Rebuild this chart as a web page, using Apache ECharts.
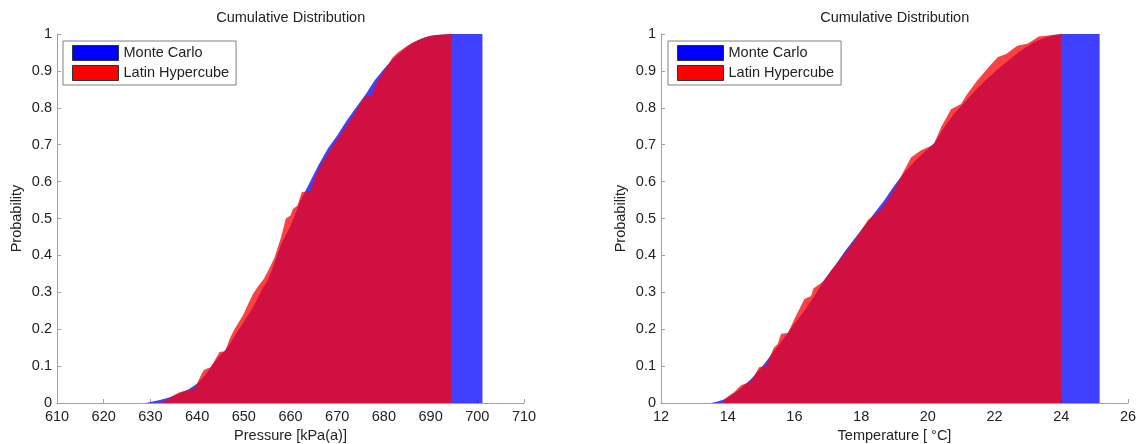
<!DOCTYPE html>
<html>
<head>
<meta charset="utf-8">
<script src="https://cdn.jsdelivr.net/npm/echarts@6/dist/echarts.min.js"></script>
<style>
html,body{margin:0;padding:0;background:#fff;}
#c{width:1140px;height:444px;}
</style>
</head>
<body>
<div id="c"></div>
<script>
// ---- Data ----
const seriesNames = ['Monte Carlo', 'Latin Hypercube'];
const chartTitle = 'Cumulative Distribution';
const pressureAxisName = 'Pressure [kPa(a)]';
const temperatureAxisName = 'Temperature [ \u00B0C]';
const probAxisName = 'Probability';

// Pressure CDF, Monte Carlo  [kPa(a), probability]
const pressureMC = [
  [629,0],[630,0.003],[632,0.008],[634,0.015],[636,0.025],[638,0.036],[639.5,0.048],
  [640,0.053],[641,0.065],[642,0.08],[643,0.098],[644,0.115],[645,0.13],[646,0.143],
  [647,0.16],[648,0.18],[650,0.22],[652,0.26],[654,0.31],[655,0.33],[656,0.36],
  [658,0.43],[660,0.48],[662,0.545],[663,0.57],[664,0.595],[666,0.645],[668,0.69],
  [670,0.725],[672,0.765],[674,0.8],[676,0.835],[678,0.874],[680,0.905],[682,0.933],
  [684,0.955],[686,0.975],[688,0.987],[690,0.995],[692,0.998],[694.4,1],[701.1,1]
];
// Pressure CDF, Latin Hypercube
const pressureLH = [
  [632,0],[633,0.005],[634,0.012],[635,0.02],[636,0.028],[637,0.032],[638.5,0.036],
  [639.5,0.04],[640.2,0.058],[641,0.08],[641.5,0.09],[642.9,0.097],[643.5,0.11],
  [644.8,0.138],[646,0.14],[647,0.175],[648,0.2],[649.8,0.237],[651,0.27],[652,0.296],
  [653,0.315],[654.3,0.337],[655.5,0.365],[656.6,0.395],[658,0.45],[659,0.5],[660,0.508],
  [660.5,0.526],[661.5,0.535],[662.4,0.571],[664.3,0.576],[665,0.605],[666.6,0.648],
  [668,0.675],[669.5,0.705],[671.2,0.738],[673,0.77],[675.8,0.83],[677.3,0.833],
  [678.5,0.87],[680,0.9],[681.9,0.937],[683,0.95],[685,0.968],[687,0.982],[689,0.992],
  [691,0.997],[694.45,1]
];
// Temperature CDF, Monte Carlo  [degC, probability]
const tempMC = [
  [13.5,0],[13.7,0.004],[13.9,0.01],[14.1,0.02],[14.4,0.04],[14.7,0.065],[15.0,0.095],
  [15.3,0.13],[15.6,0.165],[15.8,0.19],[16.0,0.215],[16.3,0.25],[16.6,0.29],[16.9,0.335],
  [17.2,0.37],[17.5,0.41],[17.8,0.445],[18.1,0.48],[18.4,0.515],[18.7,0.55],[19.0,0.59],
  [19.3,0.625],[19.6,0.655],[19.9,0.68],[20.2,0.705],[20.5,0.748],[20.8,0.785],[21.1,0.815],
  [21.4,0.845],[21.7,0.872],[22.0,0.897],[22.3,0.92],[22.6,0.942],[22.9,0.962],[23.2,0.978],
  [23.5,0.99],[23.8,0.997],[24.0,1],[25.15,1]
];
// Temperature CDF, Latin Hypercube
const tempLH = [
  [13.85,0],[13.9,0.01],[14.07,0.022],[14.2,0.03],[14.4,0.048],[14.6,0.055],[14.72,0.061],
  [14.94,0.097],[15.16,0.102],[15.38,0.15],[15.5,0.16],[15.6,0.188],[15.8,0.19],[16.03,0.233],
  [16.3,0.282],[16.5,0.29],[16.57,0.31],[16.9,0.332],[17.1,0.36],[17.34,0.386],[17.77,0.436],
  [18.2,0.495],[18.6,0.525],[18.97,0.575],[19.2,0.615],[19.5,0.666],[19.8,0.685],[20.17,0.7],
  [20.4,0.748],[20.7,0.797],[21.0,0.81],[21.15,0.833],[21.48,0.874],[21.9,0.918],[22.1,0.938],
  [22.35,0.946],[22.68,0.968],[23.0,0.974],[23.33,0.993],[24.0,1]
];
const pressureTicks = {min:610, max:710, interval:10};
const tempTicks = {min:12, max:26, interval:2};
const probTicks = {min:0, max:1, interval:0.1};

// ---- Styling ----
const FONT = 'Liberation Sans, Arial, sans-serif';
const FS = 14.5;
const axisGray = '#a0a0a0';
const textCol = '#222';
const blueFill = 'rgba(0,0,255,0.75)';
const redFill = 'rgba(255,0,0,0.75)';

function xAxisCfg(gridIndex, ticks, name){
  return {
    type:'value', gridIndex, min:ticks.min, max:ticks.max, interval:ticks.interval,
    name, nameLocation:'middle', nameGap:25,
    nameTextStyle:{color:textCol, fontFamily:FONT, fontSize:FS},
    axisLine:{show:true, lineStyle:{color:axisGray, width:1}},
    axisTick:{show:true, inside:true, length:4, lineStyle:{color:axisGray}},
    axisLabel:{color:textCol, fontFamily:FONT, fontSize:FS, margin:6, showMinLabel:true, showMaxLabel:true},
    splitLine:{show:false}
  };
}
function yAxisCfg(gridIndex){
  return {
    type:'value', gridIndex, min:probTicks.min, max:probTicks.max, interval:probTicks.interval,
    name:probAxisName, nameLocation:'middle', nameGap:33, nameRotate:90,
    nameTextStyle:{color:textCol, fontFamily:FONT, fontSize:FS},
    axisLine:{show:true, lineStyle:{color:axisGray, width:1}},
    axisTick:{show:true, inside:true, length:4, lineStyle:{color:axisGray}},
    axisLabel:{color:textCol, fontFamily:FONT, fontSize:FS, margin:5, showMinLabel:true, showMaxLabel:true},
    splitLine:{show:false}
  };
}
function areaSeries(name, data, fill, idx){
  return {
    name, type:'line', data, xAxisIndex:idx, yAxisIndex:idx,
    symbol:'none', silent:true, animation:false,
    lineStyle:{width:0, opacity:0},
    itemStyle:{color:fill},
    areaStyle:{color:fill, opacity:1}
  };
}
function legendCfg(left){
  return {
    left, top:41, orient:'vertical', icon:'rect', selectedMode:false,
    itemWidth:46, itemHeight:15, itemGap:4,
    padding:[4,7,4,9], borderColor:'#808080', borderWidth:1, backgroundColor:'#fff',
    textStyle:{color:textCol, fontFamily:FONT, fontSize:FS},
    data:[
      {name:seriesNames[0], itemStyle:{color:'#0000ff', borderColor:'#333', borderWidth:1}},
      {name:seriesNames[1], itemStyle:{color:'#ff0000', borderColor:'#333', borderWidth:1}}
    ]
  };
}

const chart = echarts.init(document.getElementById('c'), null, {renderer:'canvas'});
chart.setOption({
  animation:false,
  backgroundColor:'#fff',
  title:[
    {text:chartTitle, left:290.7, top:10, textAlign:'center', padding:0,
     textStyle:{color:textCol, fontFamily:FONT, fontSize:FS, fontWeight:'normal'}},
    {text:chartTitle, left:894.7, top:10, textAlign:'center', padding:0,
     textStyle:{color:textCol, fontFamily:FONT, fontSize:FS, fontWeight:'normal'}}
  ],
  grid:[
    {left:57, top:34, width:467, height:369, containLabel:false, outerBoundsMode:'none'},
    {left:661, top:34, width:467, height:369, containLabel:false, outerBoundsMode:'none'}
  ],
  xAxis:[xAxisCfg(0, pressureTicks, pressureAxisName), xAxisCfg(1, tempTicks, temperatureAxisName)],
  yAxis:[yAxisCfg(0), yAxisCfg(1)],
  legend:[legendCfg(63), legendCfg(668)],
  series:[
    areaSeries(seriesNames[0], pressureMC, blueFill, 0),
    areaSeries(seriesNames[1], pressureLH, redFill, 0),
    areaSeries(seriesNames[0], tempMC, blueFill, 1),
    areaSeries(seriesNames[1], tempLH, redFill, 1)
  ]
});
</script>
</body>
</html>
